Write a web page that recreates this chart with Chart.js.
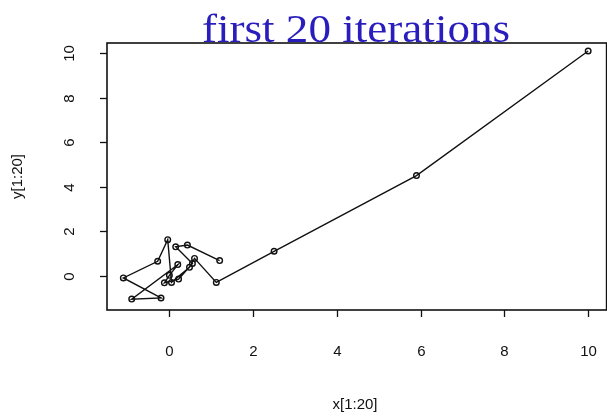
<!DOCTYPE html>
<html>
<head>
<meta charset="utf-8">
<title>first 20 iterations</title>
<script src="https://cdn.jsdelivr.net/npm/chart.js@4"></script>
<style>
  html, body { margin: 0; padding: 0; background: #fff; overflow: hidden; }
  #wrap { width: 607px; height: 420px; overflow: hidden; position: relative; }
  canvas { display: block; }
</style>
</head>
<body>
<div id="wrap"><canvas id="myChart" width="612" height="420"></canvas></div>
<script>
// iterates, in order (x[1:20], y[1:20])
var xs = [10.0, 5.9, 2.5, 1.12, 0.6, 0.48, 0.05, -0.04, -0.28, -1.1,
          -0.2, -0.9, 0.2, 0.0, -0.12, 0.22, 0.55, 0.15, 0.43, 1.2];
var ys = [10.1, 4.5, 1.1, -0.3, 0.78, 0.38, -0.3, 1.62, 0.65, -0.1,
          -1.0, -1.05, 0.5, 0.02, -0.32, -0.15, 0.55, 1.3, 1.38, 0.68];

var xTicks = [0, 2, 4, 6, 8, 10];
var yTicks = [0, 2, 4, 6, 8, 10];

var titleText = 'first 20 iterations';
var xTitle = 'x[1:20]';
var yTitle = 'y[1:20]';

var points = xs.map(function (x, i) { return { x: x, y: ys[i] }; });

// R-style frame, ticks and labels drawn from the scales
var rFrame = {
    id: 'rFrame',
    afterDraw: function (chart) {
        var ctx = chart.ctx;
        var a = chart.chartArea;
        var sx = chart.scales.x;
        var sy = chart.scales.y;
        ctx.save();
        ctx.strokeStyle = '#111';
        ctx.lineWidth = 1.6;
        ctx.strokeRect(a.left, a.top, a.right - a.left, a.bottom - a.top);

        ctx.lineWidth = 1.3;
        ctx.fillStyle = '#111';
        ctx.font = '15px "Liberation Sans", Arial, sans-serif';
        ctx.textAlign = 'center';
        ctx.textBaseline = 'middle';

        xTicks.forEach(function (t) {
            var px = Math.round(sx.getPixelForValue(t)) + 0.5;
            ctx.beginPath();
            ctx.moveTo(px, a.bottom);
            ctx.lineTo(px, a.bottom + 7);
            ctx.stroke();
            ctx.fillText(String(t), px, 352);
        });

        yTicks.forEach(function (t) {
            var py = Math.round(sy.getPixelForValue(t)) + 0.5;
            ctx.beginPath();
            ctx.moveTo(a.left, py);
            ctx.lineTo(a.left - 7, py);
            ctx.stroke();
            ctx.save();
            ctx.translate(70, py);
            ctx.rotate(-Math.PI / 2);
            ctx.fillText(String(t), 0, 0);
            ctx.restore();
        });

        ctx.fillText(xTitle, 355, 405);
        ctx.save();
        ctx.translate(18, (a.top + a.bottom) / 2);
        ctx.rotate(-Math.PI / 2);
        ctx.fillText(yTitle, 0, 0);
        ctx.restore();

        // main title sits on the top edge of the box
        ctx.save();
        ctx.fillStyle = '#2a1dbd';
        ctx.font = '41px "Liberation Serif", "Times New Roman", serif';
        ctx.textBaseline = 'alphabetic';
        ctx.translate(356, 42);
        ctx.scale(1.1, 1);
        ctx.fillText(titleText, 0, 0);
        ctx.restore();
        ctx.restore();
    }
};

var ctx = document.getElementById('myChart').getContext('2d');

new Chart(ctx, {
    type: 'scatter',
    data: {
        datasets: [{
            label: 'iterates',
            data: points,
            showLine: true,
            borderColor: '#111',
            borderWidth: 1.4,
            pointStyle: 'circle',
            pointRadius: 2.8,
            pointBorderWidth: 1.4,
            pointBorderColor: '#111',
            pointBackgroundColor: 'rgba(255,255,255,0)',
            tension: 0
        }]
    },
    options: {
        responsive: false,
        animation: false,
        devicePixelRatio: 1,
        layout: { padding: { left: 107, right: 1, top: 43, bottom: 110 } },
        plugins: {
            legend: { display: false },
            tooltip: { enabled: false }
        },
        scales: {
            x: { type: 'linear', display: false, min: -1.49, max: 10.44 },
            y: { type: 'linear', display: false, min: -1.54, max: 10.46 }
        }
    },
    plugins: [rFrame]
});
</script>
</body>
</html>
